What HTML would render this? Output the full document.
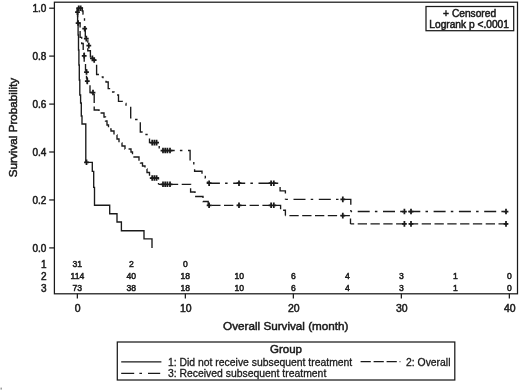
<!DOCTYPE html>
<html><head><meta charset="utf-8"><style>
html,body{margin:0;padding:0;background:#fff;width:520px;height:391px;overflow:hidden}
svg{display:block;font-family:"Liberation Sans", sans-serif;will-change:transform}
text{fill:#1a1a1a;stroke:#1a1a1a}
text:not([stroke-width]){stroke-width:0.5px}
</style></head><body>
<svg width="520" height="391" viewBox="0 0 520 391"><rect width="520" height="391" fill="#fff"/><rect x="54.4" y="2.2" width="463.1" height="291.6" fill="none" stroke="#1a1a1a" stroke-width="1.25"/><line x1="49.2" y1="8.2" x2="54.4" y2="8.2" stroke="#1a1a1a" stroke-width="1.25"/><text x="46.4" y="12.1" font-size="10" text-anchor="end">1.0</text><line x1="49.2" y1="56.1" x2="54.4" y2="56.1" stroke="#1a1a1a" stroke-width="1.25"/><text x="46.4" y="60.0" font-size="10" text-anchor="end">0.8</text><line x1="49.2" y1="104.1" x2="54.4" y2="104.1" stroke="#1a1a1a" stroke-width="1.25"/><text x="46.4" y="108.0" font-size="10" text-anchor="end">0.6</text><line x1="49.2" y1="152.0" x2="54.4" y2="152.0" stroke="#1a1a1a" stroke-width="1.25"/><text x="46.4" y="155.9" font-size="10" text-anchor="end">0.4</text><line x1="49.2" y1="199.95" x2="54.4" y2="199.95" stroke="#1a1a1a" stroke-width="1.25"/><text x="46.4" y="203.8" font-size="10" text-anchor="end">0.2</text><line x1="49.2" y1="247.9" x2="54.4" y2="247.9" stroke="#1a1a1a" stroke-width="1.25"/><text x="46.4" y="251.8" font-size="10" text-anchor="end">0.0</text><line x1="77.35" y1="293.8" x2="77.35" y2="298.6" stroke="#1a1a1a" stroke-width="1.25"/><text x="77.75" y="311.6" font-size="10.5" text-anchor="middle">0</text><line x1="185.35" y1="293.8" x2="185.35" y2="298.6" stroke="#1a1a1a" stroke-width="1.25"/><text x="185.75" y="311.6" font-size="10.5" text-anchor="middle">10</text><line x1="293.35" y1="293.8" x2="293.35" y2="298.6" stroke="#1a1a1a" stroke-width="1.25"/><text x="293.75" y="311.6" font-size="10.5" text-anchor="middle">20</text><line x1="401.35" y1="293.8" x2="401.35" y2="298.6" stroke="#1a1a1a" stroke-width="1.25"/><text x="401.75" y="311.6" font-size="10.5" text-anchor="middle">30</text><line x1="509.35" y1="293.8" x2="509.35" y2="298.6" stroke="#1a1a1a" stroke-width="1.25"/><text x="509.75" y="311.6" font-size="10.5" text-anchor="middle">40</text><text x="46.6" y="268.4" font-size="10" text-anchor="end">1</text><text x="77.35" y="267.3" font-size="8.6" text-anchor="middle">31</text><text x="131.35" y="267.3" font-size="8.6" text-anchor="middle">2</text><text x="185.35" y="267.3" font-size="8.6" text-anchor="middle">0</text><text x="46.6" y="280.4" font-size="10" text-anchor="end">2</text><text x="77.35" y="279.3" font-size="8.6" text-anchor="middle">114</text><text x="131.35" y="279.3" font-size="8.6" text-anchor="middle">40</text><text x="185.35" y="279.3" font-size="8.6" text-anchor="middle">18</text><text x="239.35" y="279.3" font-size="8.6" text-anchor="middle">10</text><text x="293.35" y="279.3" font-size="8.6" text-anchor="middle">6</text><text x="347.35" y="279.3" font-size="8.6" text-anchor="middle">4</text><text x="401.35" y="279.3" font-size="8.6" text-anchor="middle">3</text><text x="455.35" y="279.3" font-size="8.6" text-anchor="middle">1</text><text x="509.35" y="279.3" font-size="8.6" text-anchor="middle">0</text><text x="46.6" y="292.2" font-size="10" text-anchor="end">3</text><text x="77.35" y="291.1" font-size="8.6" text-anchor="middle">73</text><text x="131.35" y="291.1" font-size="8.6" text-anchor="middle">38</text><text x="185.35" y="291.1" font-size="8.6" text-anchor="middle">18</text><text x="239.35" y="291.1" font-size="8.6" text-anchor="middle">10</text><text x="293.35" y="291.1" font-size="8.6" text-anchor="middle">6</text><text x="347.35" y="291.1" font-size="8.6" text-anchor="middle">4</text><text x="401.35" y="291.1" font-size="8.6" text-anchor="middle">3</text><text x="455.35" y="291.1" font-size="8.6" text-anchor="middle">1</text><text x="509.35" y="291.1" font-size="8.6" text-anchor="middle">0</text><text x="285.8" y="330.2" font-size="11.7" text-anchor="middle">Overall Survival (month)</text><text transform="translate(17,127.5) rotate(-90)" font-size="11.7" text-anchor="middle">Survival Probability</text><rect x="426" y="6.5" width="87.7" height="24.2" fill="none" stroke="#1a1a1a" stroke-width="1.25"/><text x="469.6" y="16.6" font-size="10.2" text-anchor="middle">+ Censored</text><text x="469.1" y="27.6" font-size="10.2" text-anchor="middle">Logrank p &lt;.0001</text><g fill="none" stroke="#1a1a1a" stroke-width="1.35"><path d="M77.35,8.2 V12 H77.6 V23 H78.1 V35 H78.5 V50 H78.9 V65 H79.3 V80 H79.8 V95 H80.6 V103 H81.3 V116 H82 V124 H85.8 V162.3 H92.3 V171.3 H93.7 V187.3 H94.5 V205.2 H109.7 V213.7 H117 V222 H121.4 V230.7 H144 V238.8 H152 V247.9"/><path d="M77.35,8.20V12.00H77.60V23.00H80.10V37.40H81.70V43.50H83.20V50.70H84.20V62.00H85.50V70.00H86.50V78.00H87.30V85.00H90.00V92.50H94.20V110.00H99.00V113.00H104.00V117.00H105.50V121.00H107.00V125.00H108.50V129.00H111.00V131.00H114.00V135.00H117.00V139.00H119.00V143.00H122.00V146.00H125.00V149.00H131.00V152.00H132.50V157.00H139.00V160.00H140.50V163.00H142.50V166.00H145.00V169.00H147.00V172.50H149.50V178.00H158.50V184.30" stroke-dasharray="9.3 3.5" stroke-dashoffset="0.00"/><path d="M158.50,184.30H190.60V192.00H195.00V196.50H203.00V201.50H208.20V205.30" stroke-dasharray="9.3 3.5" stroke-dashoffset="2.40"/><path d="M208.20,205.30H280.60V210.20H285.40V215.60" stroke-dasharray="9.3 3.5" stroke-dashoffset="9.80"/><path d="M285.40,215.60H350.50V223.90" stroke-dasharray="9.3 3.5" stroke-dashoffset="8.80"/><path d="M350.50,223.90H508.00" stroke-dasharray="9.3 3.5" stroke-dashoffset="5.60"/><path d="M77.35,8.20H82.30V11.00H83.00V14.00H83.80V18.00H84.50V22.00H84.80V28.70H85.30V38.60H86.50V40.50H87.80V50.70H90.40V56.80H92.40V58.40H94.50V60.00H96.60V74.50H99.60V77.00H103.00V80.00H106.00V82.00H108.20V88.60H111.00V92.00H114.00V95.00H118.50V101.40H122.30V103.50H126.00V106.00H130.70V117.90H135.00V119.50H140.30V132.00H144.80V134.50H147.00V138.00H149.50V142.60H159.20V150.50" stroke-dasharray="12 5.2 2.5 5.6" stroke-dashoffset="0.00"/><path d="M159.20,150.50H190.10V161.00H193.80V167.00H194.60V171.20H202.00V175.00H205.30V178.00H207.50V183.20" stroke-dasharray="12 5.2 2.5 5.6" stroke-dashoffset="21.80"/><path d="M207.50,183.20H280.10V190.90H285.40V199.40" stroke-dasharray="12 5.2 2.5 5.6" stroke-dashoffset="24.90"/><path d="M285.40,199.40H350.80V211.50" stroke-dasharray="12 5.2 2.5 5.6" stroke-dashoffset="17.20"/><path d="M350.80,211.50H508.00" stroke-dasharray="12 5.2 2.5 5.6" stroke-dashoffset="18.40"/><path d="M84.10,162.30H88.90M86.50,159.50V165.10M75.10,12.20H79.90M77.50,9.40V15.00M75.70,23.00H80.50M78.10,20.20V25.80M81.80,55.80H86.60M84.20,53.00V58.60M84.10,72.00H88.90M86.50,69.20V74.80M84.90,81.00H89.70M87.30,78.20V83.80M90.60,92.50H95.40M93.00,89.70V95.30M149.80,178.00H154.60M152.20,175.20V180.80M152.00,178.00H156.80M154.40,175.20V180.80M154.20,178.00H159.00M156.60,175.20V180.80M160.60,184.30H165.40M163.00,181.50V187.10M162.80,184.30H167.60M165.20,181.50V187.10M165.00,184.30H169.80M167.40,181.50V187.10M167.60,184.30H172.40M170.00,181.50V187.10M206.70,205.30H211.50M209.10,202.50V208.10M236.60,205.30H241.40M239.00,202.50V208.10M268.70,205.30H273.50M271.10,202.50V208.10M271.40,205.30H276.20M273.80,202.50V208.10M340.40,215.60H345.20M342.80,212.80V218.40M402.00,223.90H406.80M404.40,221.10V226.70M408.60,223.90H413.40M411.00,221.10V226.70M503.60,223.90H508.40M506.00,221.10V226.70M76.30,8.20H81.10M78.70,5.40V11.00M78.30,8.20H83.10M80.70,5.40V11.00M82.30,28.70H87.10M84.70,25.90V31.50M83.90,38.60H88.70M86.30,35.80V41.40M86.40,45.60H91.20M88.80,42.80V48.40M90.00,58.40H94.80M92.40,55.60V61.20M91.80,60.00H96.60M94.20,57.20V62.80M149.80,142.60H154.60M152.20,139.80V145.40M152.00,142.60H156.80M154.40,139.80V145.40M154.20,142.60H159.00M156.60,139.80V145.40M160.60,150.50H165.40M163.00,147.70V153.30M162.80,150.50H167.60M165.20,147.70V153.30M165.00,150.50H169.80M167.40,147.70V153.30M167.60,150.50H172.40M170.00,147.70V153.30M206.70,183.20H211.50M209.10,180.40V186.00M236.60,183.20H241.40M239.00,180.40V186.00M268.70,183.20H273.50M271.10,180.40V186.00M271.40,183.20H276.20M273.80,180.40V186.00M340.40,199.40H345.20M342.80,196.60V202.20M402.00,211.50H406.80M404.40,208.70V214.30M408.60,211.50H413.40M411.00,208.70V214.30M503.60,211.50H508.40M506.00,208.70V214.30" stroke-width="1.75"/></g><rect x="117.3" y="342" width="337.5" height="38" fill="none" stroke="#1a1a1a" stroke-width="1.25"/><text x="286" y="352.8" font-size="11.5" text-anchor="middle">Group</text><line x1="121.2" y1="361.8" x2="161.4" y2="361.8" stroke="#1a1a1a" stroke-width="1.25"/><text x="168" y="365.6" font-size="10.4" stroke-width="0.3">1: Did not receive subsequent treatment</text><line x1="360.6" y1="361.6" x2="400.4" y2="361.6" stroke="#1a1a1a" stroke-width="1.25" stroke-dasharray="10.2 2.8"/><text x="406" y="365.6" font-size="10.4" stroke-width="0.3">2: Overall</text><line x1="121.2" y1="373.4" x2="160.2" y2="373.4" stroke="#1a1a1a" stroke-width="1.25" stroke-dasharray="13 5.2 2.6 6"/><text x="168" y="377.3" font-size="10.4" stroke-width="0.3">3: Received subsequent treatment</text><rect x="0.6" y="387.6" width="1.1" height="2" fill="#777"/></svg>
</body></html>
